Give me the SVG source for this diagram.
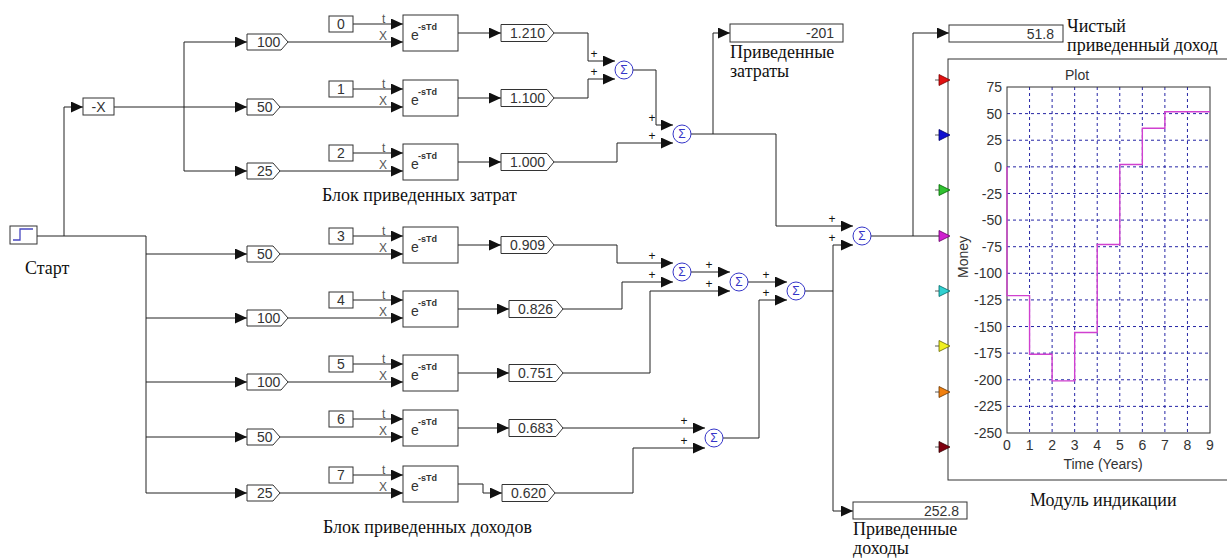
<svg xmlns="http://www.w3.org/2000/svg" width="1227" height="558" viewBox="0 0 1227 558">
<style>
.ln{stroke:#222;stroke-width:1;fill:none}
.blk{fill:#fff;stroke:#333;stroke-width:1}
.sum{fill:#fff;stroke:#3535c8;stroke-width:1}
.sig{fill:#3535c8;font-family:"Liberation Sans",sans-serif;font-size:12px;text-anchor:middle}
.t{font-family:"Liberation Sans",Arial,sans-serif;font-size:14px;fill:#333}
.c{text-anchor:middle}
.e{text-anchor:end}
.sm{font-family:"Liberation Sans",Arial,sans-serif;font-size:12px;fill:#555}
.sup{font-family:"Liberation Sans",Arial,sans-serif;font-size:9px;font-weight:bold;fill:#333}
.pl{font-family:"Liberation Sans",Arial,sans-serif;font-size:12px;fill:#111;text-anchor:middle}
.lbl{font-family:"Liberation Serif","Times New Roman",serif;font-size:18px;fill:#111}
.grid{stroke:#2525a5;stroke-width:1;stroke-dasharray:3,3;fill:none}
.ax{font-family:"Liberation Sans",Arial,sans-serif;font-size:14px;fill:#333}
</style>
<defs>
<marker id="ar" markerUnits="userSpaceOnUse" markerWidth="12" markerHeight="11" refX="12" refY="5.5" orient="auto">
<path d="M0,0 L12,5.5 L0,11 Z" fill="#111"/>
</marker>
</defs>

<g id="connectors" class="ln">
<path d="M37,236 H146 V493"/>
<path d="M64,236 V107 H83" marker-end="url(#ar)"/>
<path d="M114,107 H247" marker-end="url(#ar)"/>
<path d="M184,42 V171"/>
<path d="M184,42 H247" marker-end="url(#ar)"/>
<path d="M184,171 H247" marker-end="url(#ar)"/>
<path d="M146,254 H247" marker-end="url(#ar)"/>
<path d="M146,318 H247" marker-end="url(#ar)"/>
<path d="M146,382 H247" marker-end="url(#ar)"/>
<path d="M146,437 H247" marker-end="url(#ar)"/>
<path d="M146,493 H247" marker-end="url(#ar)"/>
<path d="M288,42 H403" marker-end="url(#ar)"/>
<path d="M280,107 H403" marker-end="url(#ar)"/>
<path d="M280,171 H403" marker-end="url(#ar)"/>
<path d="M280,254 H403" marker-end="url(#ar)"/>
<path d="M288,318 H403" marker-end="url(#ar)"/>
<path d="M288,382 H403" marker-end="url(#ar)"/>
<path d="M280,437 H403" marker-end="url(#ar)"/>
<path d="M280,493 H403" marker-end="url(#ar)"/>
<path d="M353,24 H403" marker-end="url(#ar)"/>
<path d="M353,89 H403" marker-end="url(#ar)"/>
<path d="M353,153 H403" marker-end="url(#ar)"/>
<path d="M353,236 H403" marker-end="url(#ar)"/>
<path d="M353,300 H403" marker-end="url(#ar)"/>
<path d="M353,364 H403" marker-end="url(#ar)"/>
<path d="M353,419 H403" marker-end="url(#ar)"/>
<path d="M353,475 H403" marker-end="url(#ar)"/>
<path d="M458,33 H501" marker-end="url(#ar)"/>
<path d="M458,98 H501" marker-end="url(#ar)"/>
<path d="M458,162 H501" marker-end="url(#ar)"/>
<path d="M458,245 H501" marker-end="url(#ar)"/>
<path d="M458,309 H509" marker-end="url(#ar)"/>
<path d="M458,373 H509" marker-end="url(#ar)"/>
<path d="M458,428 H509" marker-end="url(#ar)"/>
<path d="M458,484 H483 V493 H502" marker-end="url(#ar)"/>
<path d="M554,33 H588 V61 H615" marker-end="url(#ar)"/>
<path d="M554,98 H588 V79 H615" marker-end="url(#ar)"/>
<path d="M633,70 H656 V125 H673" marker-end="url(#ar)"/>
<path d="M554,162 H617 V143 H673" marker-end="url(#ar)"/>
<path d="M691,134 H776 V226 H853" marker-end="url(#ar)"/>
<path d="M713,134 V33 H730" marker-end="url(#ar)"/>
<path d="M554,245 H617 V263 H673" marker-end="url(#ar)"/>
<path d="M563,309 H622 V282 H673" marker-end="url(#ar)"/>
<path d="M691,272 H730" marker-end="url(#ar)"/>
<path d="M563,373 H650 V291 H730" marker-end="url(#ar)"/>
<path d="M748,282 H787" marker-end="url(#ar)"/>
<path d="M563,428 H705" marker-end="url(#ar)"/>
<path d="M555,493 H633 V448 H705" marker-end="url(#ar)"/>
<path d="M723,438 H759 V300 H787" marker-end="url(#ar)"/>
<path d="M805,291 H833"/>
<path d="M833,245 H853" marker-end="url(#ar)"/>
<path d="M833,245 V511 H853" marker-end="url(#ar)"/>
<path d="M871,236 H940"/>
<path d="M913,236 V33 H949" marker-end="url(#ar)"/>
</g>

<g id="start">
<rect class="blk" x="10" y="226" width="27" height="18"/>
<path d="M13,240 H20 V229 H33" stroke="#4848c0" stroke-width="1.3" fill="none"/>
<text class="lbl" x="25" y="274">Старт</text>
</g>

<g id="negate">
<rect class="blk" x="83" y="98" width="31" height="17"/>
<text class="t c" x="98.5" y="112">-X</text>
</g>

<g id="gain1"><path class="blk" d="M247,34 H281 L288,42 L281,50 H247 Z"/><text class="t" x="257" y="47">100</text></g>
<g id="gain2"><path class="blk" d="M247,99 H273 L280,107 L273,115 H247 Z"/><text class="t" x="257" y="112">50</text></g>
<g id="gain3"><path class="blk" d="M247,163 H273 L280,171 L273,179 H247 Z"/><text class="t" x="257" y="176">25</text></g>
<g id="gain4"><path class="blk" d="M247,246 H273 L280,254 L273,262 H247 Z"/><text class="t" x="257" y="259">50</text></g>
<g id="gain5"><path class="blk" d="M247,310 H281 L288,318 L281,326 H247 Z"/><text class="t" x="257" y="323">100</text></g>
<g id="gain6"><path class="blk" d="M247,374 H281 L288,382 L281,390 H247 Z"/><text class="t" x="257" y="387">100</text></g>
<g id="gain7"><path class="blk" d="M247,429 H273 L280,437 L273,445 H247 Z"/><text class="t" x="257" y="442">50</text></g>
<g id="gain8"><path class="blk" d="M247,485 H273 L280,493 L273,501 H247 Z"/><text class="t" x="257" y="498">25</text></g>

<g id="const0"><rect class="blk" x="329" y="16" width="24" height="16"/><text class="t c" x="341" y="29">0</text></g>
<g id="const1"><rect class="blk" x="329" y="81" width="24" height="16"/><text class="t c" x="341" y="94">1</text></g>
<g id="const2"><rect class="blk" x="329" y="145" width="24" height="16"/><text class="t c" x="341" y="158">2</text></g>
<g id="const3"><rect class="blk" x="329" y="228" width="24" height="16"/><text class="t c" x="341" y="241">3</text></g>
<g id="const4"><rect class="blk" x="329" y="292" width="24" height="16"/><text class="t c" x="341" y="305">4</text></g>
<g id="const5"><rect class="blk" x="329" y="356" width="24" height="16"/><text class="t c" x="341" y="369">5</text></g>
<g id="const6"><rect class="blk" x="329" y="411" width="24" height="16"/><text class="t c" x="341" y="424">6</text></g>
<g id="const7"><rect class="blk" x="329" y="467" width="24" height="16"/><text class="t c" x="341" y="480">7</text></g>

<g id="delay0"><rect class="blk" x="403" y="15" width="55" height="36"/><text class="t" x="411" y="40">e</text><text class="sup" x="418" y="30">-sTd</text><text class="sm" x="382" y="23">t</text><text class="sm" x="379" y="40">X</text></g>
<g id="delay1"><rect class="blk" x="403" y="80" width="55" height="36"/><text class="t" x="411" y="105">e</text><text class="sup" x="418" y="95">-sTd</text><text class="sm" x="382" y="88">t</text><text class="sm" x="379" y="105">X</text></g>
<g id="delay2"><rect class="blk" x="403" y="144" width="55" height="36"/><text class="t" x="411" y="169">e</text><text class="sup" x="418" y="159">-sTd</text><text class="sm" x="382" y="152">t</text><text class="sm" x="379" y="169">X</text></g>
<g id="delay3"><rect class="blk" x="403" y="227" width="55" height="36"/><text class="t" x="411" y="252">e</text><text class="sup" x="418" y="242">-sTd</text><text class="sm" x="382" y="235">t</text><text class="sm" x="379" y="252">X</text></g>
<g id="delay4"><rect class="blk" x="403" y="291" width="55" height="36"/><text class="t" x="411" y="316">e</text><text class="sup" x="418" y="306">-sTd</text><text class="sm" x="382" y="299">t</text><text class="sm" x="379" y="316">X</text></g>
<g id="delay5"><rect class="blk" x="403" y="355" width="55" height="36"/><text class="t" x="411" y="380">e</text><text class="sup" x="418" y="370">-sTd</text><text class="sm" x="382" y="363">t</text><text class="sm" x="379" y="380">X</text></g>
<g id="delay6"><rect class="blk" x="403" y="410" width="55" height="36"/><text class="t" x="411" y="435">e</text><text class="sup" x="418" y="425">-sTd</text><text class="sm" x="382" y="418">t</text><text class="sm" x="379" y="435">X</text></g>
<g id="delay7"><rect class="blk" x="403" y="466" width="55" height="36"/><text class="t" x="411" y="491">e</text><text class="sup" x="418" y="481">-sTd</text><text class="sm" x="382" y="474">t</text><text class="sm" x="379" y="491">X</text></g>

<g id="disp1"><path class="blk" d="M501,24.5 H547 L554,33 L547,41.5 H501 Z"/><text class="t" x="510" y="38">1.210</text></g>
<g id="disp2"><path class="blk" d="M501,89.5 H547 L554,98 L547,106.5 H501 Z"/><text class="t" x="510" y="103">1.100</text></g>
<g id="disp3"><path class="blk" d="M501,153.5 H547 L554,162 L547,170.5 H501 Z"/><text class="t" x="510" y="167">1.000</text></g>
<g id="disp4"><path class="blk" d="M501,236.5 H547 L554,245 L547,253.5 H501 Z"/><text class="t" x="510" y="250">0.909</text></g>
<g id="disp5"><path class="blk" d="M509,300.5 H556 L563,309 L556,317.5 H509 Z"/><text class="t" x="518" y="314">0.826</text></g>
<g id="disp6"><path class="blk" d="M509,364.5 H556 L563,373 L556,381.5 H509 Z"/><text class="t" x="518" y="378">0.751</text></g>
<g id="disp7"><path class="blk" d="M509,419.5 H556 L563,428 L556,436.5 H509 Z"/><text class="t" x="518" y="433">0.683</text></g>
<g id="disp8"><path class="blk" d="M502,484.5 H548 L555,493 L548,501.5 H502 Z"/><text class="t" x="511" y="498">0.620</text></g>

<g id="sum1"><circle class="sum" cx="624" cy="70" r="9"/><text class="sig" x="624" y="74">Σ</text><text class="pl" x="594" y="58">+</text><text class="pl" x="594" y="76">+</text></g>
<g id="sum2"><circle class="sum" cx="682" cy="134" r="9"/><text class="sig" x="682" y="138">Σ</text><text class="pl" x="652" y="122">+</text><text class="pl" x="652" y="140">+</text></g>
<g id="sum3"><circle class="sum" cx="862" cy="236" r="9"/><text class="sig" x="862" y="240">Σ</text><text class="pl" x="832" y="223">+</text><text class="pl" x="832" y="242">+</text></g>
<g id="sum4"><circle class="sum" cx="682" cy="272" r="9"/><text class="sig" x="682" y="276">Σ</text><text class="pl" x="652" y="260">+</text><text class="pl" x="652" y="279">+</text></g>
<g id="sum5"><circle class="sum" cx="739" cy="282" r="9"/><text class="sig" x="739" y="286">Σ</text><text class="pl" x="709" y="269">+</text><text class="pl" x="709" y="288">+</text></g>
<g id="sum6"><circle class="sum" cx="796" cy="291" r="9"/><text class="sig" x="796" y="295">Σ</text><text class="pl" x="766" y="279">+</text><text class="pl" x="766" y="297">+</text></g>
<g id="sum7"><circle class="sum" cx="714" cy="438" r="9"/><text class="sig" x="714" y="442">Σ</text><text class="pl" x="684" y="425">+</text><text class="pl" x="684" y="445">+</text></g>

<g id="cost-display"><rect class="blk" x="730" y="24" width="113" height="18"/><text class="t e" x="834" y="38">-201</text>
<text class="lbl" x="730" y="58">Приведенные</text><text class="lbl" x="730" y="77">затраты</text></g>
<g id="npv-display"><rect class="blk" x="949" y="25" width="114" height="17"/><text class="t e" x="1054" y="39">51.8</text>
<text class="lbl" x="1067" y="32">Чистый</text><text class="lbl" x="1067" y="51">приведенный доход</text></g>
<g id="income-display"><rect class="blk" x="853" y="502" width="114" height="17"/><text class="t e" x="959" y="516">252.8</text>
<text class="lbl" x="853" y="535">Приведенные</text><text class="lbl" x="853" y="554">доходы</text></g>

<g id="labels">
<text class="lbl" x="322" y="201">Блок приведенных затрат</text>
<text class="lbl" x="323" y="533">Блок приведенных доходов</text>
</g>

<g id="plot">
<rect x="948" y="59" width="290" height="421" fill="#fff" stroke="#333"/>
<text class="ax c" x="1077" y="80">Plot</text>
<g class="grid">
<path d="M1029.56,87 V433 M1052.11,87 V433 M1074.67,87 V433 M1097.22,87 V433 M1119.78,87 V433 M1142.33,87 V433 M1164.89,87 V433 M1187.44,87 V433"/>
<path d="M1007,113.62 H1210 M1007,140.23 H1210 M1007,166.85 H1210 M1007,193.46 H1210 M1007,220.08 H1210 M1007,246.69 H1210 M1007,273.31 H1210 M1007,299.92 H1210 M1007,326.54 H1210 M1007,353.15 H1210 M1007,379.77 H1210 M1007,406.38 H1210"/>
</g>
<rect x="1007" y="87" width="203" height="346" fill="none" stroke="#333"/>
<path d="M1007,166.85 V295.67 H1029.56 V354.22 H1052.11 V380.83 H1074.67 V332.45 H1097.22 V244.51 H1119.78 V164.56 H1142.33 V128.2 H1164.89 V111.7 H1210" fill="none" stroke="#d040d0" stroke-width="1.4"/>
<g class="ax e">
<text x="1002" y="92">75</text><text x="1002" y="118.6">50</text><text x="1002" y="145.2">25</text><text x="1002" y="171.9">0</text>
<text x="1002" y="198.5">-25</text><text x="1002" y="225.1">-50</text><text x="1002" y="251.7">-75</text><text x="1002" y="278.3">-100</text>
<text x="1002" y="304.9">-125</text><text x="1002" y="331.5">-150</text><text x="1002" y="358.2">-175</text><text x="1002" y="384.8">-200</text>
<text x="1002" y="411.4">-225</text><text x="1002" y="438">-250</text>
</g>
<g class="ax c">
<text x="1007" y="450">0</text><text x="1029.6" y="450">1</text><text x="1052.1" y="450">2</text><text x="1074.7" y="450">3</text><text x="1097.2" y="450">4</text>
<text x="1119.8" y="450">5</text><text x="1142.3" y="450">6</text><text x="1164.9" y="450">7</text><text x="1187.4" y="450">8</text><text x="1210" y="450">9</text>
<text x="1103" y="469">Time (Years)</text>
</g>
<text class="ax c" transform="translate(968,257) rotate(-90)">Money</text>
<g stroke-width="0.8">
<path d="M935,80 H940 M935,135 H940 M935,190 H940 M935,291 H940 M935,346 H940 M935,392 H940 M935,447 H940" stroke="#333"/>
<polygon points="939,74.5 950,80 939,85.5" fill="#e01010" stroke="#700"/>
<polygon points="939,129.5 950,135 939,140.5" fill="#1010d0" stroke="#006"/>
<polygon points="939,184.5 950,190 939,195.5" fill="#30c030" stroke="#060"/>
<polygon points="939,230.5 950,236 939,241.5" fill="#d020d0" stroke="#606"/>
<polygon points="939,285.5 950,291 939,296.5" fill="#30d0d0" stroke="#066"/>
<polygon points="939,340.5 950,346 939,351.5" fill="#f0f020" stroke="#660"/>
<polygon points="939,386.5 950,392 939,397.5" fill="#f08010" stroke="#630"/>
<polygon points="939,441.5 950,447 939,452.5" fill="#800010" stroke="#300"/>
</g>
<text class="lbl" x="1030" y="506">Модуль индикации</text>
</g>
</svg>
